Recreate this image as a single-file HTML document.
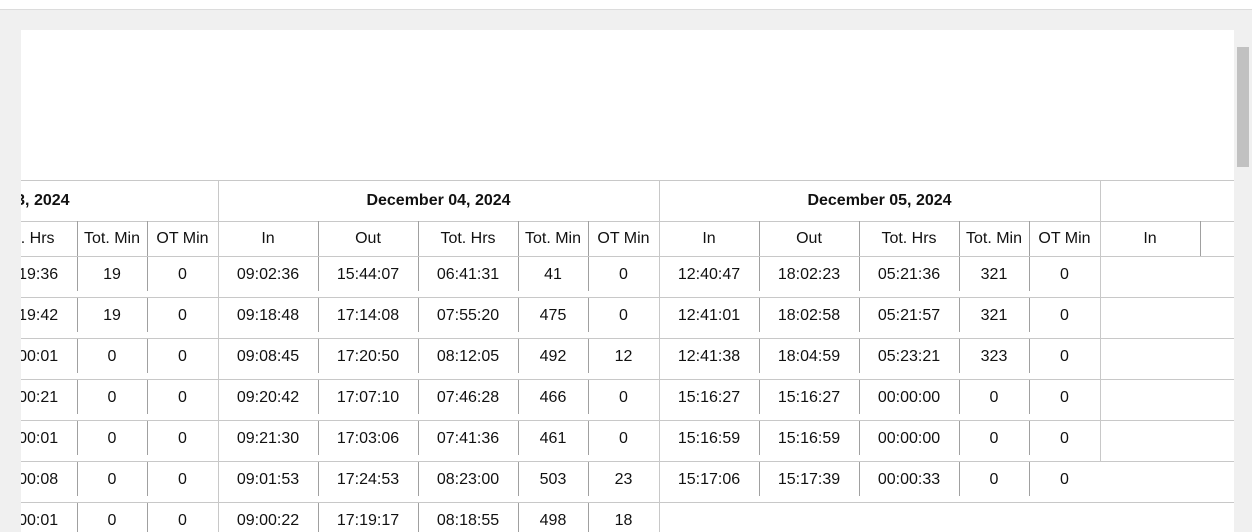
<!DOCTYPE html>
<html><head><meta charset="utf-8"><style>
body{margin:0;width:1252px;height:532px;overflow:hidden;background:#f0f0f0;font-family:"Liberation Sans",Arial,sans-serif;position:relative}
#topbar{position:absolute;left:0;top:0;width:1252px;height:9px;background:#fff;border-bottom:1px solid #dcdcdc}
#panel{position:absolute;left:21px;top:30px;width:1213px;height:502px;background:#fff;overflow:hidden}
#sb{position:absolute;left:1235px;top:30px;width:17px;height:502px;background:#f0f0f0}
#thumb{position:absolute;left:1237px;top:47px;width:12px;height:120px;background:#c1c1c1}
.c{position:absolute;text-align:center;font-size:16px;color:#111;box-sizing:border-box}
.h{position:absolute;background:#c8c8c8;height:1px}
.v{position:absolute;background:#a0a0a0;width:1px}
.g{position:absolute;background:#c8c8c8;width:1px}
</style></head><body>
<div id="topbar"></div>
<div id="panel"></div>
<div id="sb"></div>
<div id="thumb"></div>
<script>
const dates=["December 03, 2024","December 04, 2024","December 05, 2024",""];
const colNames=["In","Out","Tot. Hrs","Tot. Min","OT Min"];
const d03=[["","","00:19:36","19","0"],["","","00:19:42","19","0"],["","","00:00:01","0","0"],["","","00:00:21","0","0"],["","","00:00:01","0","0"],["","","00:00:08","0","0"],["","","00:00:01","0","0"]];
const d04=[["09:02:36","15:44:07","06:41:31","41","0"],["09:18:48","17:14:08","07:55:20","475","0"],["09:08:45","17:20:50","08:12:05","492","12"],["09:20:42","17:07:10","07:46:28","466","0"],["09:21:30","17:03:06","07:41:36","461","0"],["09:01:53","17:24:53","08:23:00","503","23"],["09:00:22","17:19:17","08:18:55","498","18"]];
const d05=[["12:40:47","18:02:23","05:21:36","321","0"],["12:41:01","18:02:58","05:21:57","321","0"],["12:41:38","18:04:59","05:23:21","323","0"],["15:16:27","15:16:27","00:00:00","0","0"],["15:16:59","15:16:59","00:00:00","0","0"],["15:17:06","15:17:39","00:00:33","0","0"]];
const groups=[d03,d04,d05,[]];
const P=document.getElementById('panel');
const OX=-21,OY=-30;
const widths=[100,100,100,70,71];
function add(cls,x,y,w,h,txt){const e=document.createElement('div');e.className=cls;e.style.left=(x+OX)+'px';e.style.top=(y+OY)+'px';if(w!=null)e.style.width=w+'px';if(h!=null)e.style.height=h+'px';if(txt!=null){e.textContent=txt;e.style.lineHeight=h+'px';}P.appendChild(e);return e;}
add('h',0,180,1300,null);add('h',218,221,1100,null);add('h',0,221,218,null);add('h',0,256,1300,null);
groups.forEach((rows,gi)=>{
 const gx=-223+gi*441;
 const dh=add('c',gx,180,441,41,dates[gi]);dh.style.fontWeight='bold';
 
 
 add('g',gx+441,180,null,(gi<2?352:281));
 let x=gx;
 colNames.forEach((n,ci)=>{
  if(gi===3&&ci>1)return;
  const ch=add('c',x,221,widths[ci],35,n);
  
  
  if(ci<4)add('v',x+widths[ci],221,null,35);
  x+=widths[ci];
 });
 const nrows=gi<2?7:6;
 for(let r=0;r<nrows;r++){
  const y=256+r*41;
  add('h',gx,y+41,441,null);
  let xx=gx;
  for(let ci=0;ci<5;ci++){
   if(rows[r]){
    const cell=add('c',xx,y+1,widths[ci],35,rows[r][ci]);
    
    
    if(ci<4)add('v',xx+widths[ci],y+1,null,34);
   }
   xx+=widths[ci];
  }
 }
});
</script>
</body></html>
